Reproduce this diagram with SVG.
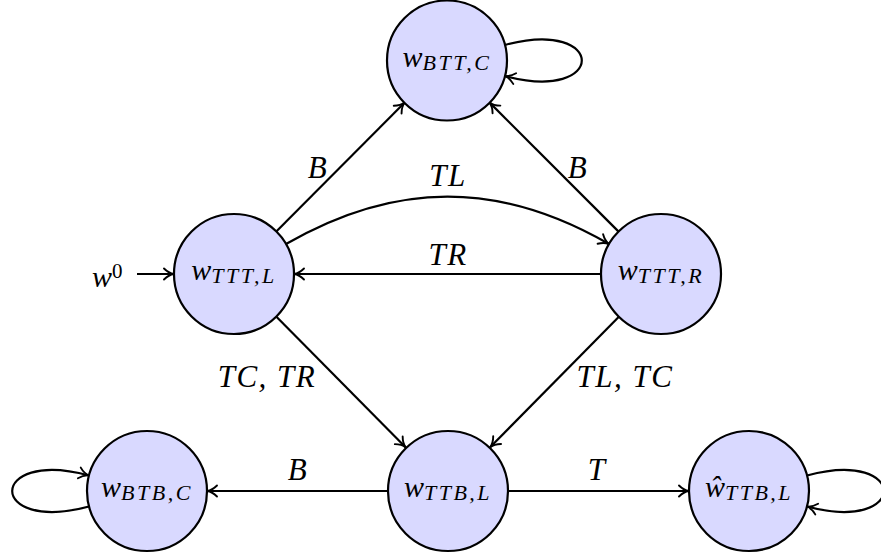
<svg xmlns="http://www.w3.org/2000/svg" width="881" height="555" viewBox="0 0 881 555">
<style>
.node circle{fill:#d9d9ff;stroke:#000;stroke-width:2.2}
.m{font-family:"Liberation Serif","Times New Roman",serif;font-style:italic;font-size:30px;fill:#000}
.s{font-size:22px;letter-spacing:2.5px}
.lab{font-family:"Liberation Serif","Times New Roman",serif;font-style:italic;font-size:31px;letter-spacing:1.5px;fill:#000;text-anchor:middle}
.e{fill:none;stroke:#000;stroke-width:2.2;marker-end:url(#arr)}
</style>
<defs>
<marker id="arr" markerUnits="userSpaceOnUse" viewBox="-12 -7 14 14" markerWidth="14" markerHeight="14" refX="0" refY="0" orient="auto" overflow="visible">
<path d="M-10,-5.5 C-6.5,-2 -2.8,-0.4 0,0 C-2.8,0.4 -6.5,2 -10,5.5" fill="none" stroke="#000" stroke-width="1.9" stroke-linecap="round"/>
</marker>
</defs>
<g id="connectors">
<path class="e" d="M137,274 L174,274"/>
<path class="e" d="M276.3,231.5 L404.7,102.5"/>
<path class="e" d="M618.6,231.6 L489.4,102.4"/>
<path class="e" d="M286,244 C395.6,180.7 499.4,180.7 609,244"/>
<path class="e" d="M601,274 L294,274"/>
<path class="e" d="M276.2,316.6 L405.8,447.4"/>
<path class="e" d="M618.9,316.7 L490.1,447.3"/>
<path class="e" d="M388,491 L207,491"/>
<path class="e" d="M508,491 L689,491"/>
<path class="e" d="M505,45 C607.4,17.6 607.4,103.4 505,76"/>
<path class="e" d="M89,506.5 C-13.4,533.9 -13.4,448.1 89,475.5"/>
<path class="e" d="M807,475.5 C909.4,448.1 909.4,533.9 807,506.5"/>
<text class="lab" x="318" y="178">B</text>
<text class="lab" x="578" y="178">B</text>
<text class="lab" x="448" y="186">TL</text>
<text class="lab" x="448" y="265">TR</text>
<text class="lab" x="267" y="387">TC, TR</text>
<text class="lab" x="625" y="387">TL, TC</text>
<text class="lab" x="298" y="480">B</text>
<text class="lab" x="597" y="480">T</text>
<text class="m" x="92" y="287">w<tspan font-size="21" font-style="normal" dy="-9">0</tspan></text>
</g>
<g id="BTTC" class="node"><circle cx="447" cy="60.5" r="60"/><text class="m" x="447" y="67" text-anchor="middle">w<tspan class="s" dy="3">BTT,C</tspan></text></g>
<g id="TTTL" class="node"><circle cx="234" cy="274" r="60"/><text class="m" x="234" y="280" text-anchor="middle">w<tspan class="s" dy="3">TTT,L</tspan></text></g>
<g id="TTTR" class="node"><circle cx="661" cy="274" r="60"/><text class="m" x="661" y="280" text-anchor="middle">w<tspan class="s" dy="3">TTT,R</tspan></text></g>
<g id="BTBC" class="node"><circle cx="147" cy="491" r="60"/><text class="m" x="147" y="497" text-anchor="middle">w<tspan class="s" dy="3">BTB,C</tspan></text></g>
<g id="TTBL" class="node"><circle cx="448" cy="491" r="60"/><text class="m" x="448" y="497" text-anchor="middle">w<tspan class="s" dy="3">TTB,L</tspan></text></g>
<g id="hTTBL" class="node"><circle cx="749" cy="491" r="60"/><text class="m" x="749" y="497" text-anchor="middle">ŵ<tspan class="s" dy="3">TTB,L</tspan></text></g>
</svg>
